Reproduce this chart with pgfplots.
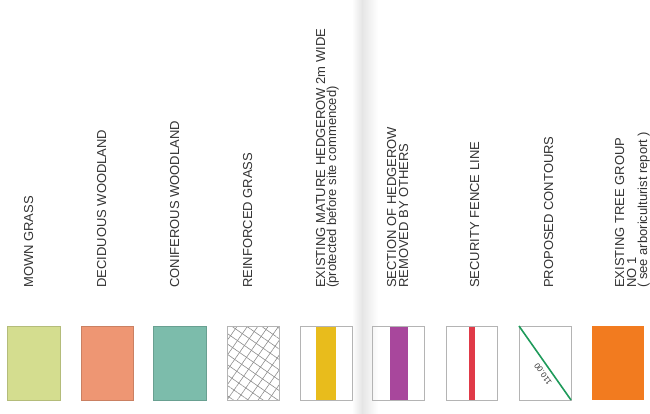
\documentclass[border=0pt]{standalone}
\usepackage{fontspec}
\setmainfont{Liberation Sans}
\usepackage{pgfplots}
\pgfplotsset{compat=1.18}
\usetikzlibrary{patterns.meta}
\definecolor{mown}{HTML}{D4DD8F}
\definecolor{decid}{HTML}{EE9673}
\definecolor{conif}{HTML}{7CBCAB}
\definecolor{hedge}{HTML}{E8BC1C}
\definecolor{removed}{HTML}{A8479C}
\definecolor{fence}{HTML}{E03A48}
\definecolor{contour}{HTML}{1E9A5A}
\definecolor{treegrp}{HTML}{F27B1F}
\definecolor{edge}{HTML}{B4B4B4}
\definecolor{txt}{HTML}{333333}
\begin{document}
\begin{tikzpicture}
\begin{axis}[width=650bp,height=413bp,scale only axis,
  xmin=0,xmax=650,ymin=0,ymax=413,y dir=reverse,hide axis,clip=false]
\addplot[draw=none,forget plot] coordinates {(0,0) (650,413)};
% page fold shading
\addplot[draw=none,left color=white,right color=black!10] coordinates {(352,0) (362,0) (362,413) (352,413)} --cycle;
\addplot[draw=none,left color=black!10,right color=white] coordinates {(362,0) (378,0) (378,413) (362,413)} --cycle;
% plain swatches
\addplot[fill=mown,draw=mown!85!black,line width=0.3pt] coordinates {(7,326) (60,326) (60,400) (7,400)} --cycle;
\addplot[fill=decid,draw=decid!85!black,line width=0.3pt] coordinates {(81,326) (133,326) (133,400) (81,400)} --cycle;
\addplot[fill=conif,draw=conif!85!black,line width=0.3pt] coordinates {(153,326) (206,326) (206,400) (153,400)} --cycle;
% reinforced grass
\addplot[draw=none,pattern={Lines[angle=55,distance=8.5bp,line width=0.6bp]},pattern color=black!45] coordinates {(227,326) (279,326) (279,400) (227,400)} --cycle;
\addplot[draw=none,pattern={Lines[angle=-35,distance=8.5bp,line width=0.6bp]},pattern color=black!45] coordinates {(227,326) (279,326) (279,400) (227,400)} --cycle;
\addplot[draw=edge,line width=0.5pt] coordinates {(227,326) (279,326) (279,400) (227,400)} --cycle;
% hedgerow
\addplot[fill=hedge,draw=none] coordinates {(316,326) (336,326) (336,400) (316,400)} --cycle;
\addplot[draw=edge,line width=0.5pt] coordinates {(300,326) (352,326) (352,400) (300,400)} --cycle;
% removed hedgerow
\addplot[fill=removed,draw=none] coordinates {(390,326) (408,326) (408,400) (390,400)} --cycle;
\addplot[draw=edge,line width=0.5pt] coordinates {(372,326) (424,326) (424,400) (372,400)} --cycle;
% fence
\addplot[fill=fence,draw=none] coordinates {(469,326) (475,326) (475,400) (469,400)} --cycle;
\addplot[draw=edge,line width=0.5pt] coordinates {(446,326) (497,326) (497,400) (446,400)} --cycle;
% contours
\addplot[draw=edge,line width=0.5pt] coordinates {(519,326) (571,326) (571,400) (519,400)} --cycle;
\addplot[draw=contour,line width=1.6pt] coordinates {(519,326) (571,400)};
\node[rotate=125,font=\fontsize{8bp}{9bp}\selectfont,text=txt,inner sep=0pt] at (axis cs:543,374) {110.00};
% tree group
\addplot[fill=treegrp,draw=none] coordinates {(592,326) (644,326) (644,400) (592,400)} --cycle;
% labels
\begin{scope}[every node/.style={rotate=90,anchor=base west,inner sep=0pt,text=txt,font=\fontsize{13bp}{15bp}\selectfont}]
\node at (axis cs:33,288) {MOWN GRASS};
\node at (axis cs:106,288) {DECIDUOUS WOODLAND};
\node at (axis cs:179,288) {CONIFEROUS WOODLAND};
\node at (axis cs:252,288) {REINFORCED GRASS};
\node at (axis cs:325,288) {EXISTING MATURE HEDGEROW 2m WIDE};
\node at (axis cs:336,288) {(protected before site commenced)};
\node at (axis cs:396,288) {SECTION OF HEDGEROW};
\node at (axis cs:408,288) {REMOVED BY OTHERS};
\node at (axis cs:479,288) {SECURITY FENCE LINE};
\node at (axis cs:553,288) {PROPOSED CONTOURS};
\node at (axis cs:624,288) {EXISTING TREE GROUP};
\node at (axis cs:636,288) {NO 1};
\node at (axis cs:647,288) {( see arboriculturist report )};
\end{scope}
\end{axis}
\end{tikzpicture}
\end{document}
